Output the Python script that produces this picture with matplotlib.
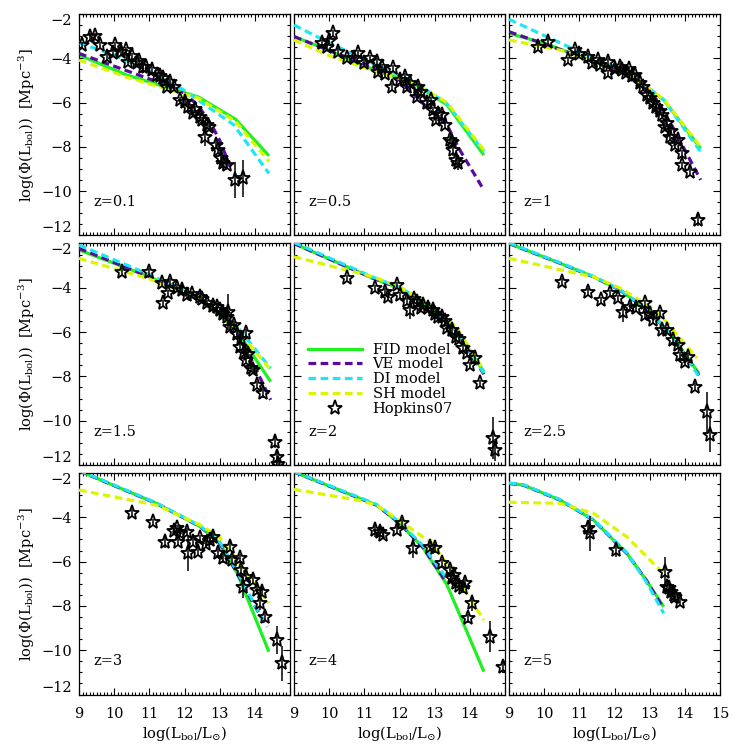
import matplotlib
matplotlib.use('Agg')
import matplotlib.pyplot as plt
from matplotlib.ticker import MultipleLocator
from matplotlib.lines import Line2D

# panel labels, row by row
z_labels = ['z=0.1', 'z=0.5', 'z=1', 'z=1.5', 'z=2', 'z=2.5', 'z=3', 'z=4', 'z=5']

# FID model (one list per panel)
fid_lum = [[9.0, 10.35, 12.4, 13.45, 14.4],
           [9.0, 9.85, 11.05, 12.4, 13.35, 14.4],
           [9.0, 10.0, 12.45, 13.4, 14.45],
           [9.0, 11.0, 12.45, 13.45, 14.45],
           [9.0, 11.25, 12.0, 12.95, 13.6, 14.4],
           [9.0, 10.45, 11.4, 12.15, 13.0, 13.65, 14.4],
           [9.0, 11.2, 12.45, 13.0, 13.5, 14.4],
           [9.0, 11.35, 12.0, 12.65, 13.35, 14.4],
           [9.0, 9.4, 10.45, 11.4, 12.35, 12.9, 13.4]]
fid_phi = [[-3.85, -4.75, -5.75, -6.75, -8.4],
           [-3.02, -3.55, -4.38, -5.13, -6.1, -8.37],
           [-2.87, -3.32, -4.75, -5.88, -8.07],
           [-2.29, -3.5, -4.55, -5.85, -8.24],
           [-2.0, -3.57, -4.02, -4.93, -5.9, -7.79],
           [-2.0, -2.89, -3.5, -4.1, -5.08, -6.21, -7.86],
           [-1.9, -3.37, -4.42, -5.17, -6.53, -10.07],
           [-1.95, -3.45, -4.27, -5.33, -7.05, -10.97],
           [-2.47, -2.54, -3.22, -4.12, -5.63, -6.83, -8.04]]

# VE model
ve_lum = [[9.0, 11.9, 12.4, 12.8, 13.0, 13.3],
          [9.0, 11.05, 12.0, 12.85, 13.35, 13.7, 14.4],
          [9.0, 10.9, 12.45, 13.2, 13.65, 14.05, 14.45],
          [9.0, 11.0, 12.45, 13.4, 13.95, 14.45],
          [9.0, 11.25, 12.0, 12.95, 13.6, 14.4],
          [9.0, 10.45, 11.4, 12.15, 13.0, 13.65, 14.4],
          [9.0, 11.2, 12.45, 13.0, 13.5, 13.95, 14.35],
          [9.0, 11.35, 12.0, 12.65, 13.3],
          [9.0, 9.4, 10.45, 11.4, 12.35, 12.9, 13.35]]
ve_phi = [[-3.78, -5.45, -6.15, -7.1, -7.7, -8.9],
          [-3.02, -4.3, -4.98, -6.33, -7.01, -8.1, -9.95],
          [-2.8, -3.85, -4.75, -5.88, -7.09, -8.29, -9.49],
          [-2.22, -3.5, -4.55, -5.76, -7.4, -9.06],
          [-2.0, -3.57, -4.02, -4.93, -5.92, -7.9],
          [-2.0, -2.89, -3.5, -4.1, -5.08, -6.21, -7.95],
          [-1.9, -3.37, -4.42, -5.17, -6.53, -7.88, -8.94],
          [-1.95, -3.45, -4.27, -5.33, -6.85],
          [-2.47, -2.54, -3.22, -4.12, -5.63, -6.83, -8.0]]

# DI model
di_lum = [[9.0, 10.0, 11.0, 12.0, 12.4, 13.4, 14.4],
          [9.0, 10.0, 11.0, 12.4, 13.35, 14.4],
          [9.0, 10.9, 12.45, 13.4, 14.45],
          [9.0, 11.0, 12.45, 13.5, 14.45],
          [9.0, 11.25, 12.0, 12.95, 13.6, 14.4],
          [9.0, 10.45, 11.4, 12.15, 13.0, 13.65, 14.38],
          [9.0, 11.2, 12.45, 13.0, 13.5, 14.25],
          [9.0, 11.35, 12.0, 12.65, 13.4],
          [9.0, 9.4, 10.45, 11.4, 12.35, 12.9, 13.4]]
di_phi = [[-3.3, -3.85, -4.6, -5.45, -5.9, -7.0, -9.2],
          [-2.5, -3.3, -4.05, -5.05, -6.05, -8.22],
          [-2.24, -3.63, -4.68, -5.88, -8.22],
          [-2.07, -3.4, -4.47, -5.76, -7.64],
          [-1.95, -3.52, -3.98, -4.9, -5.9, -7.85],
          [-1.97, -2.87, -3.48, -4.08, -5.06, -6.2, -7.95],
          [-1.88, -3.35, -4.4, -5.1, -6.45, -8.71],
          [-1.93, -3.42, -4.22, -5.25, -6.9],
          [-2.45, -2.52, -3.2, -4.1, -5.6, -6.9, -8.34]]

# SH model
sh_lum = [[9.0, 10.35, 12.4, 13.45, 14.4],
          [9.0, 9.95, 11.05, 12.4, 13.35, 14.4],
          [9.0, 10.5, 12.45, 13.4, 14.45],
          [9.0, 11.0, 12.45, 13.45, 14.45],
          [9.0, 10.5, 11.25, 12.0, 12.95, 13.6, 14.35],
          [9.0, 10.7, 11.4, 12.15, 13.0, 13.4, 14.35],
          [9.0, 11.2, 12.45, 13.0, 13.4, 14.4],
          [9.0, 10.8, 11.35, 12.0, 12.95, 13.6, 14.4],
          [9.0, 10.45, 11.4, 12.35, 13.2, 13.5]]
sh_phi = [[-4.08, -4.85, -5.8, -6.85, -8.65],
          [-3.17, -3.85, -4.45, -5.1, -6.0, -8.15],
          [-3.17, -3.65, -4.75, -5.85, -8.0],
          [-2.67, -3.6, -4.5, -5.8, -7.71],
          [-2.6, -3.2, -3.5, -3.95, -4.85, -5.75, -7.6],
          [-2.67, -3.27, -3.5, -4.0, -4.85, -5.4, -7.18],
          [-2.77, -3.45, -4.35, -4.9, -5.75, -7.88],
          [-2.74, -3.22, -3.45, -4.15, -5.2, -6.68, -8.64],
          [-3.32, -3.37, -3.82, -4.88, -6.23, -6.68]]

# Hopkins07 points
hop_lum = [[9.08, 9.31, 9.45, 9.6, 9.79, 9.97, 10.02, 10.2, 10.35, 10.4, 10.5, 10.64, 10.7, 10.83,
            10.9, 11.07, 11.21, 11.3, 11.4, 11.49, 11.59, 11.7, 11.87, 12.01, 12.1, 12.25, 12.3,
            12.44, 12.5, 12.63, 12.58, 12.7, 12.9, 12.96, 13.05, 13.1, 13.2, 13.43, 13.67],
           [9.79, 9.93, 10.0, 10.12, 10.26, 10.5, 10.7, 10.83, 11.0, 11.16, 11.35, 11.4, 11.5, 11.6,
            11.78, 11.82, 12.0, 12.15, 12.2, 12.3, 12.49, 12.53, 12.6, 12.77, 12.9, 12.96, 13.05,
            13.1, 13.2, 13.3, 13.43, 13.5, 13.53, 13.62, 13.67],
           [9.83, 10.12, 10.68, 10.88, 11.0, 11.25, 11.35, 11.54, 11.6, 11.82, 11.82, 12.0, 12.15,
            12.2, 12.34, 12.4, 12.5, 12.58, 12.72, 12.8, 12.91, 13.0, 13.1, 13.19, 13.3, 13.34,
            13.43, 13.5, 13.57, 13.6, 13.72, 13.8, 13.91, 13.91, 14.14, 14.38],
           [10.21, 11.0, 11.35, 11.4, 11.54, 11.59, 11.8, 11.92, 12.06, 12.2, 12.44, 12.5, 12.63,
            12.8, 12.91, 13.0, 13.1, 13.2, 13.25, 13.29, 13.4, 13.5, 13.57, 13.6, 13.7, 13.76,
            13.76, 13.8, 13.9, 13.95, 14.05, 14.24, 14.57, 14.62, 14.65],
           [10.5, 11.3, 11.59, 11.68, 11.92, 12.01, 12.2, 12.3, 12.4, 12.49, 12.6, 12.67, 12.8,
            12.96, 13.0, 13.1, 13.2, 13.3, 13.34, 13.5, 13.62, 13.7, 13.8, 13.91, 14.0, 14.14,
            14.28, 14.66, 14.71],
           [10.5, 11.25, 11.63, 11.87, 12.11, 12.25, 12.44, 12.6, 12.86, 12.86, 13.0, 13.1, 13.29,
            13.34, 13.5, 13.67, 13.8, 13.86, 14.0, 14.09, 14.3, 14.62, 14.71],
           [10.5, 11.11, 11.44, 11.7, 11.78, 11.82, 11.87, 12.06, 12.11, 12.25, 12.39, 12.44, 12.6,
            12.72, 12.82, 12.96, 13.1, 13.29, 13.34, 13.57, 13.62, 13.67, 13.76, 13.95, 14.05,
            14.14, 14.19, 14.28, 14.62, 14.76],
           [11.3, 11.44, 11.54, 11.92, 12.06, 12.39, 12.86, 13.0, 13.2, 13.43, 13.48, 13.55, 13.62,
            13.7, 13.81, 13.86, 14.05, 13.95, 14.57, 14.95],
           [11.25, 11.3, 12.04, 13.43, 13.48, 13.55, 13.62, 13.68, 13.72, 13.86]]
hop_phi = [[-3.4, -3.02, -2.99, -3.4, -3.93, -3.78, -3.4, -3.7, -3.63, -4.15, -3.9, -4.23, -4.1, -4.38,
            -4.4, -4.53, -4.75, -4.8, -4.9, -5.28, -5.06, -5.3, -5.88, -5.96, -6.2, -6.48, -6.3,
            -6.64, -6.8, -7.01, -7.54, -7.1, -7.9, -8.14, -8.51, -8.74, -8.8, -9.49, -9.42],
           [-3.32, -3.47, -3.2, -2.87, -3.7, -4.0, -4.0, -3.78, -4.2, -4.0, -4.15, -4.6, -4.4, -4.7,
            -5.28, -4.45, -5.0, -4.83, -5.28, -5.1, -5.73, -5.28, -5.5, -6.03, -5.9, -6.33, -6.79,
            -6.5, -6.56, -7.0, -7.69, -7.8, -8.14, -8.59, -8.74],
           [-3.47, -3.25, -4.08, -3.63, -3.8, -3.93, -4.23, -4.08, -4.3, -4.15, -4.68, -4.5, -4.38,
            -4.55, -4.68, -4.5, -4.8, -4.75, -5.13, -5.3, -5.66, -5.8, -6.0, -6.19, -6.4, -6.56,
            -7.09, -6.9, -7.54, -7.3, -7.91, -7.7, -8.29, -8.82, -9.12, -11.3],
           [-3.27, -3.27, -3.8, -4.7, -4.25, -3.72, -4.0, -4.1, -4.33, -4.3, -4.4, -4.5, -4.7,
            -4.8, -4.85, -5.0, -5.2, -5.3, -5.1, -5.76, -5.7, -6.1, -6.66, -6.3, -6.9, -6.06,
            -7.26, -7.0, -7.6, -7.71, -8.39, -8.76, -10.95, -11.63, -11.95],
           [-3.57, -4.02, -4.18, -4.4, -3.87, -4.33, -4.6, -5.0, -4.5, -4.63, -4.9, -4.78, -4.9,
            -5.0, -5.2, -5.3, -5.3, -5.5, -5.83, -5.9, -6.21, -6.3, -6.7, -6.96, -7.49, -7.18,
            -8.31, -10.8, -11.32],
           [-3.72, -4.18, -4.55, -4.25, -4.48, -5.08, -4.85, -4.9, -4.7, -5.23, -5.2, -5.45, -5.15,
            -5.91, -5.9, -6.36, -6.6, -7.03, -7.33, -7.11, -8.46, -9.6, -10.65],
           [-3.79, -4.23, -5.1, -4.6, -4.5, -5.1, -4.72, -4.65, -5.63, -5.1, -5.55, -4.95, -5.2,
            -5.03, -4.88, -5.63, -5.85, -5.33, -5.93, -5.85, -6.38, -7.13, -6.68, -6.83, -7.28,
            -7.88, -7.36, -8.48, -9.54, -10.59],
           [-4.59, -4.65, -4.8, -4.57, -4.27, -5.4, -5.33, -5.4, -6.08, -6.38, -6.76, -6.6, -6.98,
            -7.1, -7.21, -6.98, -7.88, -8.56, -9.39, -10.75],
           [-4.5, -4.72, -5.48, -6.45, -7.13, -7.2, -7.36, -7.5, -7.58, -7.81]]
hop_err = [[0.15] * 30 + [0.4, 0.15, 0.2, 0.2, 0.4, 0.3, 0.2, 0.8, 0.85],
           [0.15] * 30 + [0.2, 0.2, 0.25, 0.3, 0.3],
           [0.15] * 34 + [0.2, 0.25],
           [0.15] * 18 + [0.8] + [0.2] * 13 + [0.3, 0.3, 0.3],
           [0.15] * 7 + [0.4] + [0.15] * 19 + [0.95, 0.5],
           [0.15] * 5 + [0.45] + [0.15] * 15 + [0.9, 0.75],
           [0.15, 0.15, 0.3, 0.15, 0.15, 0.2, 0.15, 0.15, 0.8, 0.2, 0.2, 0.15, 0.15, 0.15, 0.3,
            0.2, 0.2, 0.2, 0.2, 0.2, 0.2, 0.5, 0.2, 0.2, 0.2, 0.3, 0.2, 0.2, 0.65, 0.8],
           [0.3, 0.2, 0.2, 0.2, 0.2, 0.45, 0.2, 0.2, 0.2, 0.2, 0.2, 0.2, 0.2, 0.2, 0.2, 0.2, 0.35,
            0.2, 0.7, 0.3],
           [0.3, 0.8, 0.3, 0.65, 0.3, 0.2, 0.2, 0.2, 0.2, 0.2]]

FID_C = '#1ff01f'
VE_C = '#5a0a9e'
DI_C = '#1ee6f5'
SH_C = '#dcf500'
line_w = 2.3
dash = (0, (2.4, 1.4))
FontSize = 10.5
star_ms = 11
star_mew = 1.3

plt.rcParams.update({'font.family': 'DejaVu Serif', 'mathtext.fontset': 'dejavuserif',
                     'font.size': FontSize})

fig = plt.figure(figsize=(7.47, 7.47), dpi=100)
lefts = [79, 294, 509]
tops = [14, 243.5, 473]
W, H = 211.0, 221.5

for k in range(9):
    r, c = divmod(k, 3)
    ax = fig.add_axes([lefts[c] / 747, 1 - (tops[r] + H) / 747, W / 747, H / 747])

    ax.plot(fid_lum[k], fid_phi[k], color=FID_C, lw=line_w, solid_capstyle='butt', zorder=2)
    ax.plot(ve_lum[k], ve_phi[k], color=VE_C, lw=line_w, ls=dash, zorder=3)
    ax.plot(di_lum[k], di_phi[k], color=DI_C, lw=line_w, ls=dash, zorder=3)
    ax.plot(sh_lum[k], sh_phi[k], color=SH_C, lw=line_w, ls=dash, zorder=3)
    ax.errorbar(hop_lum[k], hop_phi[k], yerr=hop_err[k], fmt='*', ms=star_ms, mfc='none', mec='k',
                mew=star_mew, ecolor='k', elinewidth=1.1, capsize=0, zorder=5)

    ax.text(9.4, -10.5, z_labels[k], ha='left', va='center', fontsize=FontSize)

    ax.set_xlim(9, 15)
    ax.set_ylim(-12, -2)
    ax.set_xticks(range(9, 16))
    ax.set_yticks([-12, -10, -8, -6, -4, -2])
    ax.xaxis.set_minor_locator(MultipleLocator(0.1))
    ax.yaxis.set_minor_locator(MultipleLocator(0.5))
    ax.tick_params(which='both', direction='in', top=True, right=True, width=0.8)
    ax.tick_params(which='major', length=5)
    ax.tick_params(which='minor', length=2.5)
    ax.tick_params(axis='x', pad=9)
    ax.tick_params(axis='y', pad=5)
    for sp in ax.spines.values():
        sp.set_linewidth(0.9)

    if c == 0:
        ax.set_yticklabels(['\u221212', '\u221210', '\u22128', '\u22126', '\u22124', '\u22122'])
        ax.set_ylabel(r'log($\Phi$(L$_{\rm bol}$))  [Mpc$^{-3}$]', labelpad=3)
        ticks = ax.yaxis.get_major_ticks()
        ticks[0].label1.set_verticalalignment('bottom')
        ticks[-1].label1.set_verticalalignment('top')
    else:
        ax.tick_params(labelleft=False)
    if r == 2:
        if c == 2:
            ax.set_xticklabels(['9', '10', '11', '12', '13', '14', '15'])
        else:
            ax.set_xticklabels(['9', '10', '11', '12', '13', '14', ''])
        ax.set_xlabel(r'log(L$_{\rm bol}$/L$_{\odot}$)', labelpad=2)
    else:
        ax.tick_params(labelbottom=False)

    if k == 4:
        handles = [Line2D([], [], color=FID_C, lw=line_w),
                   Line2D([], [], color=VE_C, lw=line_w, ls=dash),
                   Line2D([], [], color=DI_C, lw=line_w, ls=dash),
                   Line2D([], [], color=SH_C, lw=line_w, ls=dash),
                   Line2D([], [], ls='none', marker='*', ms=star_ms, mfc='none', mec='k',
                          mew=star_mew)]
        ax.legend(handles, ['FID model', 'VE model', 'DI model', 'SH model', 'Hopkins07'],
                  loc='upper left', bbox_to_anchor=(0.03, 0.585), frameon=False,
                  handlelength=3.7, handletextpad=0.75, labelspacing=0.05, borderpad=0,
                  fontsize=FontSize)

fig.savefig('out.png', dpi=100)
